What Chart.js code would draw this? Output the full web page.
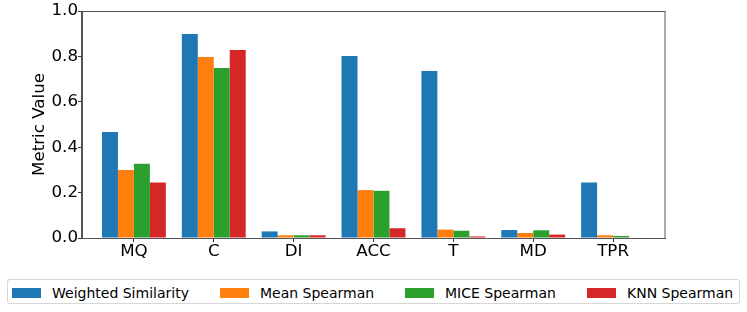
<!DOCTYPE html>
<html>
<head>
<meta charset="utf-8">
<script src="https://cdn.jsdelivr.net/npm/chart.js@4/dist/chart.umd.min.js"></script>
<style>
  html, body { margin: 0; padding: 0; background: #fff; }
  #wrap { position: relative; width: 747px; height: 312px; font-family: "DejaVu Sans", sans-serif; }
  #cbox { position: absolute; left: 0; top: 0; width: 747px; height: 270px; }
  #legend { position: absolute; left: 7px; top: 279px; width: 733px; height: 25px; border: 1px solid #d6d6d6; border-radius: 3px; box-sizing: border-box; }
  .item { position: absolute; top: 0; height: 25px; display: flex; align-items: center; font-size: 14px; color: #000; white-space: nowrap; }
  .patch { width: 29px; height: 10px; margin-right: 11px; }
</style>
</head>
<body>
<div id="wrap">
  <div id="cbox"><canvas id="c"></canvas></div>
  <div id="legend"></div>
</div>
<script>
const categories = ["MQ", "C", "DI", "ACC", "T", "MD", "TPR"];
const seriesNames = ["Weighted Similarity", "Mean Spearman", "MICE Spearman", "KNN Spearman"];
const weightedSimilarity = [0.467, 0.899, 0.029, 0.802, 0.736, 0.035, 0.244];
const meanSpearman = [0.300, 0.797, 0.012, 0.211, 0.037, 0.022, 0.012];
const miceSpearman = [0.327, 0.749, 0.012, 0.208, 0.032, 0.034, 0.009];
const knnSpearman = [0.245, 0.828, 0.012, 0.043, 0.007, 0.015, 0.002];
const yTicks = [0.0, 0.2, 0.4, 0.6, 0.8, 1.0];
const colors = ["#1f77b4", "#ff7f0e", "#2ca02c", "#d62728"];

const allSeries = [weightedSimilarity, meanSpearman, miceSpearman, knnSpearman];
const datasets = allSeries.map((vals, k) => ({
  label: seriesNames[k],
  data: vals.map((v, i) => ({ x: i, y: v })),
  backgroundColor: colors[k],
  borderWidth: 0,
  categoryPercentage: 0.8,
  barPercentage: 1.0
}));

const frame = {
  id: 'frame',
  afterDraw(chart) {
    const a = chart.chartArea, ctx = chart.ctx;
    ctx.save();
    ctx.strokeStyle = '#555';
    ctx.lineWidth = 1;
    ctx.strokeRect(Math.round(a.left) - 0.5, Math.round(a.top) + 0.5, Math.round(a.right - a.left) + 0.5, Math.round(a.bottom - a.top));
    ctx.restore();
  }
};

const FONT = { family: "DejaVu Sans", size: 16.7 };

new Chart(document.getElementById('c'), {
  type: 'bar',
  data: { datasets },
  plugins: [frame],
  options: {
    responsive: true,
    maintainAspectRatio: false,
    animation: false,
    layout: { padding: { left: 26, right: 82, top: 11, bottom: 0 } },
    plugins: { legend: { display: false }, tooltip: { enabled: false } },
    scales: {
      x: {
        type: 'linear',
        min: -0.65,
        max: 6.65,
        offset: false,
        afterFit: (s) => { s.height = 32; },
        afterBuildTicks: (s) => { s.ticks = categories.map((c, i) => ({ value: i })); },
        ticks: {
          autoSkip: false,
          maxRotation: 0,
          padding: 0,
          color: '#000',
          font: FONT,
          callback: (v) => categories[v] ?? ''
        },
        grid: { display: true, drawOnChartArea: false, drawTicks: true, tickLength: 4, color: '#333', offset: false },
        border: { display: true, color: '#555' }
      },
      y: {
        min: 0,
        max: 1.0,
        afterFit: (s) => { s.width = 56; },
        afterBuildTicks: (s) => { s.ticks = yTicks.map(v => ({ value: v })); },
        ticks: {
          padding: 0,
          color: '#000',
          font: FONT,
          callback: (v) => Number(v).toFixed(1)
        },
        grid: { display: true, drawOnChartArea: false, drawTicks: true, tickLength: 4, color: '#333' },
        border: { display: true, color: '#555' },
        title: { display: true, text: 'Metric Value', color: '#000', font: FONT, padding: { top: 4, bottom: 0 } }
      }
    }
  }
});

// legend (HTML, positioned like the reference)
const legendLefts = [4, 212, 397, 579];
const legend = document.getElementById('legend');
seriesNames.forEach((name, k) => {
  const it = document.createElement('div');
  it.className = 'item';
  it.style.left = legendLefts[k] + 'px';
  const p = document.createElement('span');
  p.className = 'patch';
  p.style.background = colors[k];
  const t = document.createElement('span');
  t.textContent = name;
  it.appendChild(p); it.appendChild(t);
  legend.appendChild(it);
});
</script>
</body>
</html>
